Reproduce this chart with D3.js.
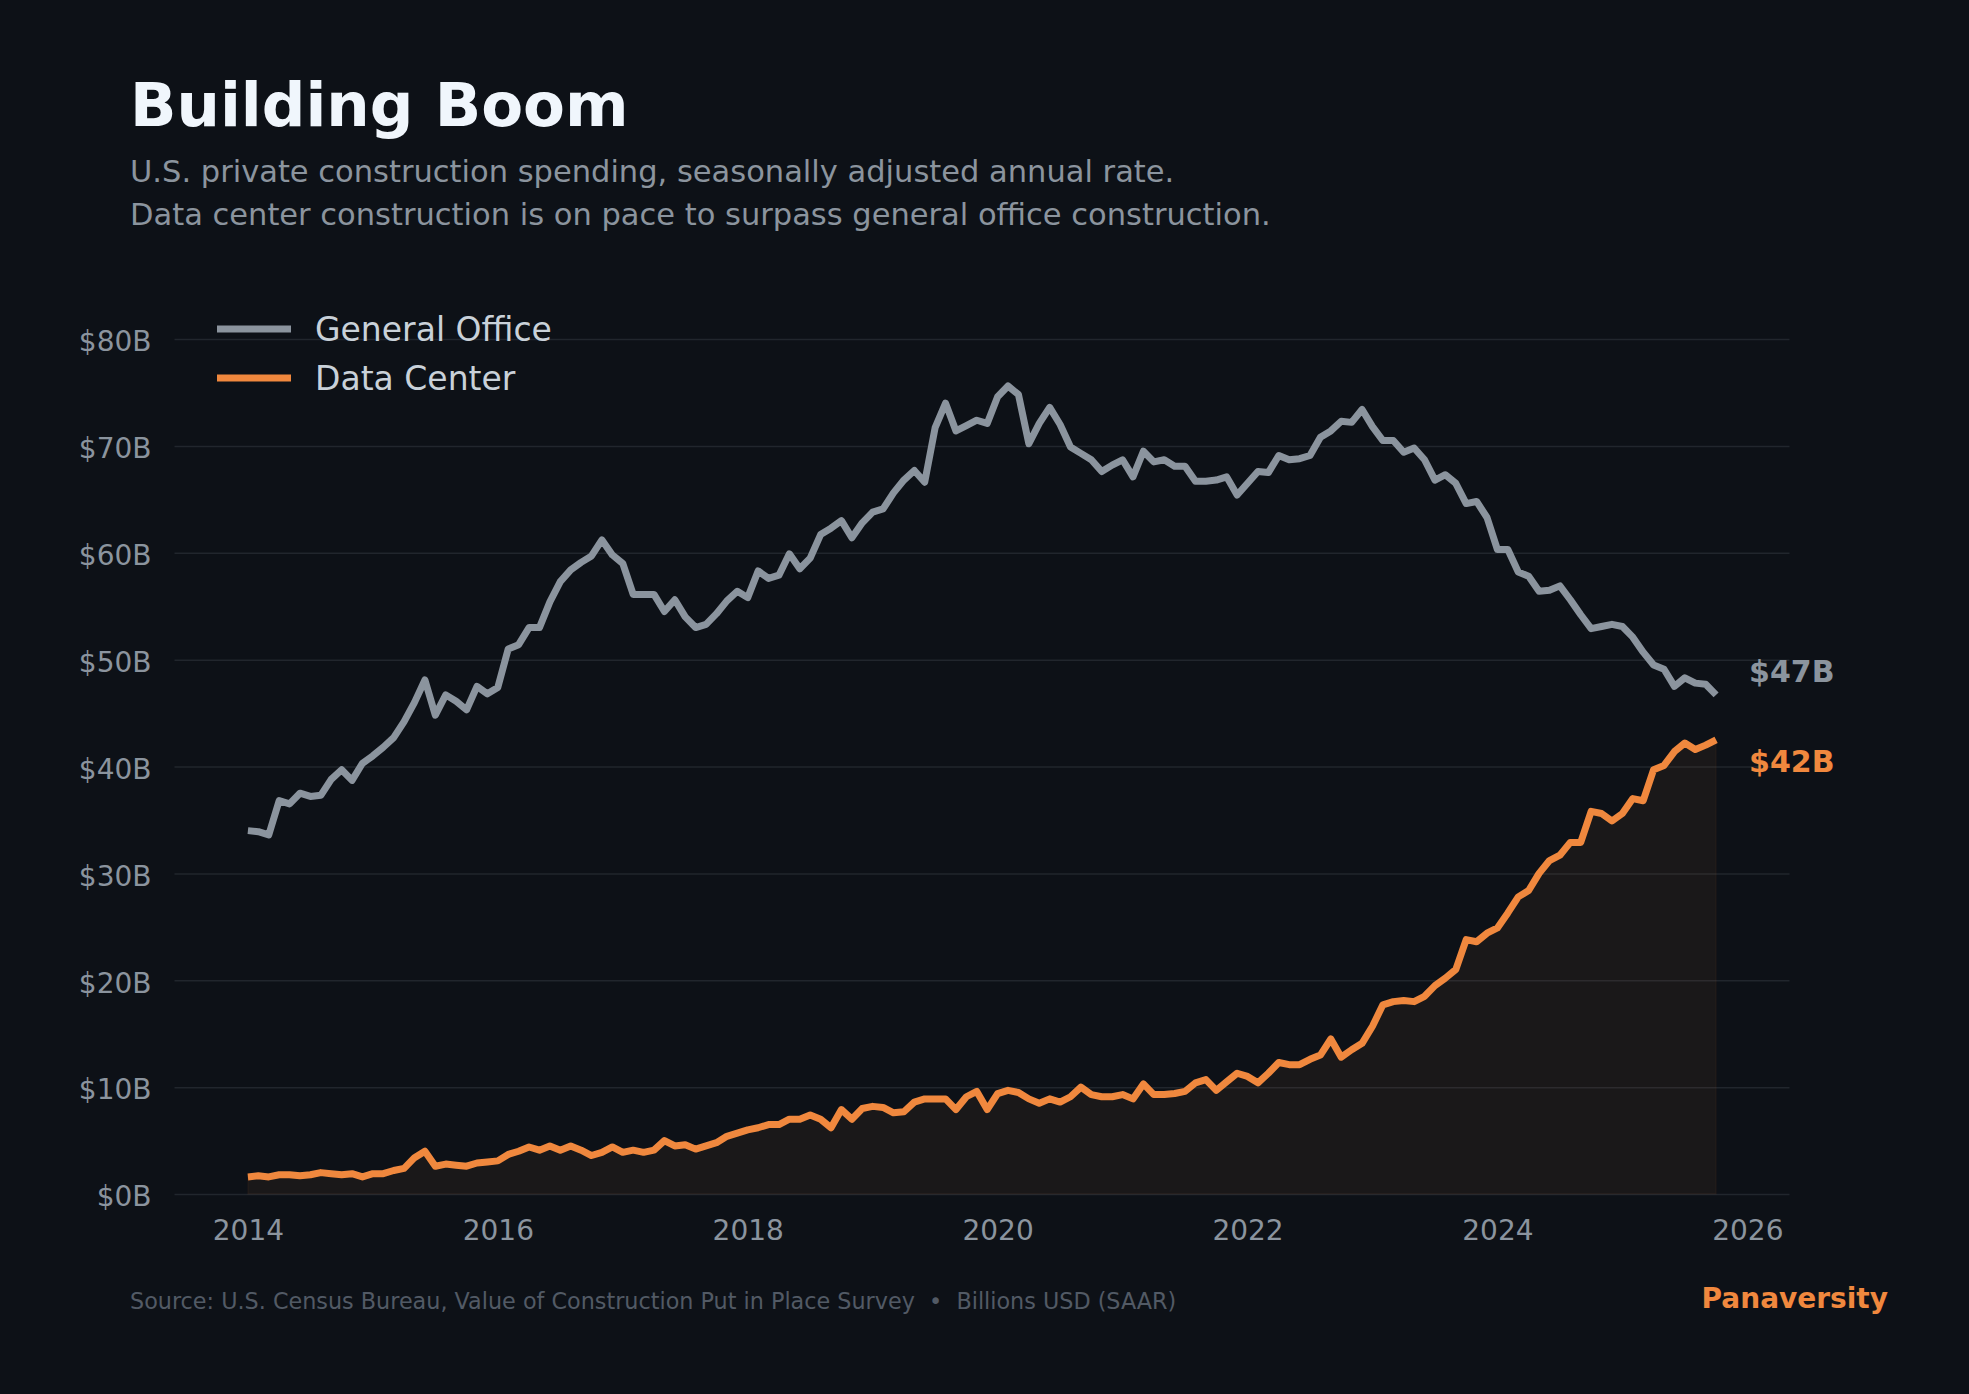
<!DOCTYPE html>
<html>
<head>
<meta charset="utf-8">
<script src="https://cdn.jsdelivr.net/npm/d3@7"></script>
<style>
  html, body { margin: 0; padding: 0; background: #0d1117; }
  svg { display: block; font-family: "DejaVu Sans", sans-serif; }
</style>
</head>
<body>
<svg id="chart" width="1969" height="1394"></svg>
<script>
// ---- DATA (monthly, Jan 2014 – Oct 2025, $ billions SAAR) ----
const startYear = 2014;
const seriesNames = ["General Office", "Data Center"];
const generalOffice = [
  34.0, 33.9, 33.6, 36.8, 36.5, 37.5, 37.2, 37.3, 38.8, 39.7, 38.7, 40.3,
  41.0, 41.8, 42.7, 44.2, 46.0, 48.1, 44.8, 46.7, 46.1, 45.3, 47.5, 46.8,
  47.4, 51.0, 51.4, 53.0, 53.0, 55.4, 57.3, 58.4, 59.1, 59.7, 61.2, 59.8,
  59.0, 56.1, 56.1, 56.1, 54.5, 55.6, 54.0, 53.0, 53.3, 54.3, 55.5, 56.4,
  55.8, 58.3, 57.6, 57.9, 59.9, 58.5, 59.5, 61.7, 62.3, 63.0, 61.4, 62.8,
  63.8, 64.1, 65.6, 66.8, 67.7, 66.6, 71.7, 74.0, 71.4, 71.9, 72.4, 72.1,
  74.6, 75.6, 74.8, 70.2, 72.1, 73.6, 72.0, 69.9, 69.3, 68.7, 67.6, 68.2,
  68.7, 67.1, 69.5, 68.5, 68.7, 68.1, 68.1, 66.7, 66.7, 66.8, 67.1, 65.4,
  66.5, 67.6, 67.5, 69.1, 68.7, 68.8, 69.1, 70.8, 71.4, 72.3, 72.2, 73.4,
  71.8, 70.5, 70.5, 69.4, 69.8, 68.7, 66.8, 67.3, 66.5, 64.6, 64.8, 63.3,
  60.3, 60.3, 58.2, 57.8, 56.4, 56.5, 56.9, 55.6, 54.2, 52.9, 53.1, 53.3,
  53.1, 52.1, 50.7, 49.5, 49.1, 47.5, 48.3, 47.8, 47.7, 46.7
];
const dataCenter = [
  1.6, 1.7, 1.6, 1.8, 1.8, 1.7, 1.8, 2.0, 1.9, 1.8, 1.9, 1.6,
  1.9, 1.9, 2.2, 2.4, 3.4, 4.0, 2.6, 2.8, 2.7, 2.6, 2.9, 3.0,
  3.1, 3.7, 4.0, 4.4, 4.1, 4.5, 4.1, 4.5, 4.1, 3.6, 3.9, 4.4,
  3.9, 4.1, 3.9, 4.1, 5.0, 4.5, 4.6, 4.2, 4.5, 4.8, 5.4, 5.7,
  6.0, 6.2, 6.5, 6.5, 7.0, 7.0, 7.4, 7.0, 6.2, 7.9, 7.0, 8.0,
  8.2, 8.1, 7.6, 7.7, 8.6, 8.9, 8.9, 8.9, 7.9, 9.1, 9.6, 7.9,
  9.4, 9.7, 9.5, 8.9, 8.5, 8.9, 8.6, 9.1, 10.0, 9.3, 9.1, 9.1,
  9.3, 8.9, 10.3, 9.3, 9.3, 9.4, 9.6, 10.4, 10.7, 9.7, 10.5, 11.3,
  11.0, 10.4, 11.3, 12.3, 12.1, 12.1, 12.6, 13.0, 14.5, 12.8, 13.5, 14.1,
  15.7, 17.7, 18.0, 18.1, 18.0, 18.5, 19.5, 20.2, 21.0, 23.8, 23.6, 24.4,
  24.9, 26.3, 27.8, 28.4, 30.0, 31.2, 31.7, 32.9, 32.9, 35.8, 35.6, 34.9,
  35.6, 37.0, 36.8, 39.7, 40.1, 41.4, 42.2, 41.6, 42.0, 42.5
];
const yTicks = [0, 10, 20, 30, 40, 50, 60, 70, 80];
const xTicks = [2014, 2016, 2018, 2020, 2022, 2024, 2026];
const endLabels = ["$47B", "$42B"];

const titleText = "Building Boom";
const subtitleLines = [
  "U.S. private construction spending, seasonally adjusted annual rate.",
  "Data center construction is on pace to surpass general office construction."
];
const sourceText = "Source: U.S. Census Bureau, Value of Construction Put in Place Survey  \u2022  Billions USD (SAAR)";
const brandText = "Panaversity";

// ---- STYLE ----
const C = {
  bg: "#0d1117", grid: "#21262d", tick: "#8b949e", title: "#f0f6fc",
  sub: "#8b949e", legend: "#c9d1d9", office: "#8b949e", dc: "#f0883e",
  footer: "#525a65"
};

const svg = d3.select("#chart");
svg.append("rect").attr("width", 1969).attr("height", 1394).attr("fill", C.bg);

const dates = generalOffice.map((_, i) => startYear + i / 12);
const xMin = dates[0], xMax = dates[dates.length - 1];
const pad = (xMax - xMin) * 0.05;

const plot = { left: 174.5, right: 1789.5, top: 339, bottom: 1194 };
const x = d3.scaleLinear().domain([xMin - pad, xMax + pad]).range([plot.left, plot.right]);
const y = d3.scaleLinear().domain([0, 80]).range([plot.bottom, plot.top]);

// gridlines
svg.append("g")
  .attr("transform", `translate(${plot.left},0)`)
  .call(d3.axisLeft(y).tickValues(yTicks).tickSize(-(plot.right - plot.left)).tickFormat(""))
  .call(g => g.select(".domain").remove())
  .call(g => g.selectAll("line").attr("stroke", C.grid).attr("stroke-width", 1.5));

// y labels
svg.append("g")
  .attr("transform", `translate(${plot.left},0)`)
  .call(d3.axisLeft(y).tickValues(yTicks).tickSize(0).tickPadding(23).tickFormat(d => `$${d}B`))
  .call(g => g.select(".domain").remove())
  .call(g => g.selectAll("text").attr("fill", C.tick).attr("font-size", 28)
    .attr("dy", "0.42em").attr("font-family", "DejaVu Sans"));

// x labels
svg.append("g")
  .attr("transform", `translate(0,${plot.bottom})`)
  .call(d3.axisBottom(x).tickValues(xTicks).tickSize(0).tickPadding(26).tickFormat(d3.format("d")))
  .call(g => g.select(".domain").remove())
  .call(g => g.selectAll("text").attr("fill", C.tick).attr("font-size", 28)
    .attr("font-family", "DejaVu Sans"));

// area under data center
const area = d3.area().x((d, i) => x(dates[i])).y0(y(0)).y1(d => y(d));
svg.append("path").datum(dataCenter).attr("d", area)
  .attr("fill", C.dc).attr("fill-opacity", 0.06)
  .attr("stroke", C.dc).attr("stroke-opacity", 0.05).attr("stroke-width", 1.5);

const line = d3.line().x((d, i) => x(dates[i])).y(d => y(d));
const series = [generalOffice, dataCenter];
const colors = [C.office, C.dc];
series.forEach((s, k) => {
  svg.append("path").datum(s).attr("d", line)
    .attr("fill", "none").attr("stroke", colors[k]).attr("stroke-width", 7)
    .attr("stroke-linejoin", "round").attr("stroke-linecap", "butt");
});

// end labels
const labelOffsets = [-23, 22];
series.forEach((s, k) => {
  svg.append("text")
    .attr("x", x(dates[dates.length - 1]) + 33)
    .attr("y", y(s[s.length - 1]) + labelOffsets[k])
    .attr("dominant-baseline", "central")
    .attr("font-size", 30).attr("font-weight", "bold").attr("fill", colors[k])
    .text(endLabels[k]);
});

// legend
const legend = svg.append("g");
seriesNames.forEach((name, k) => {
  const ly = 329 + k * 49;
  legend.append("line").attr("x1", 217).attr("x2", 291).attr("y1", ly).attr("y2", ly)
    .attr("stroke", colors[k]).attr("stroke-width", 7);
  legend.append("text").attr("x", 315).attr("y", ly + 12)
    .attr("font-size", 33).attr("fill", C.legend).text(name);
});

// title / subtitle
svg.append("text").attr("x", 130).attr("y", 126).attr("font-size", 61)
  .attr("font-weight", "bold").attr("fill", C.title).text(titleText);
subtitleLines.forEach((t, i) => {
  svg.append("text").attr("x", 130).attr("y", 182 + i * 43).attr("font-size", 30.5)
    .attr("fill", C.sub).text(t);
});

// footer
svg.append("text").attr("x", 130).attr("y", 1309).attr("font-size", 22.3)
  .attr("fill", C.footer).attr("xml:space", "preserve").style("white-space", "pre").text(sourceText);
svg.append("text").attr("x", 1888).attr("y", 1308).attr("font-size", 28)
  .attr("font-weight", "bold").attr("text-anchor", "end").attr("fill", C.dc).text(brandText);
</script>
</body>
</html>
